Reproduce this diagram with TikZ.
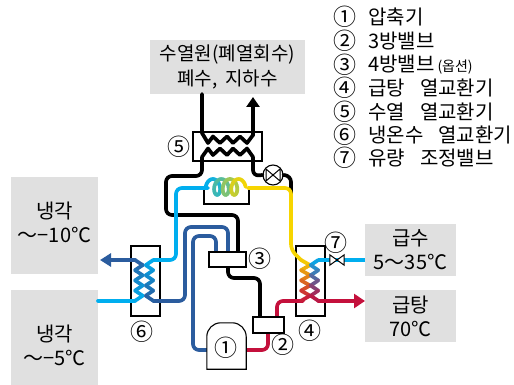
\documentclass[tikz,border=0pt]{standalone}
\usepackage{fontspec}
\setmainfont{Noto Sans CJK KR}
\usepackage{xcolor}
\usepackage{tikz}
\usetikzlibrary{calc,arrows.meta}
\definecolor{pipecyan}{HTML}{00AEEF}
\definecolor{pipeblue}{HTML}{2B5C9E}
\definecolor{pipered}{HTML}{C4103C}
\definecolor{pipeyellow}{HTML}{F7D500}
\definecolor{panelgray}{HTML}{E0E0E0}
\newcommand{\wsp}{\hspace{15pt}}

% zigzag of a heat exchanger: start x, other x, colour at top, colour at bottom
\newcommand{\zigzag}[4]{
  \foreach \i in {0,...,7}{
    \pgfmathsetmacro\p{100*(\i+0.5)/8}
    \pgfmathsetmacro\xa{isodd(\i) ? #2 : #1}
    \pgfmathsetmacro\xb{isodd(\i) ? #1 : #2}
    \pgfmathsetmacro\ya{260+5.1*\i}
    \pgfmathsetmacro\yb{260+5.1*(\i+1)}
    \draw[pipe, color=#4!\p!#3] (\xa,\ya) -- (\xb,\yb);
  }
}

\begin{document}
\begin{tikzpicture}[x=1pt, y=-1pt, font=\fontsize{20}{24}\selectfont]
\tikzset{
  panel/.style={fill=panelgray, inner sep=0pt, align=center},
  unit/.style={draw, fill=white, line width=1.1pt, inner sep=0pt},
  pipe/.style={line width=3.7pt, line cap=round, line join=round},
  bentpipe/.style={pipe, rounded corners=6pt},
  num/.style={font=\fontsize{23}{25}\selectfont, inner sep=0pt},
  legend/.style={anchor=west, inner sep=0pt},
}
\useasboundingbox (0,0) rectangle (514,385);

% gray panels
\node[panel, minimum width=155pt, minimum height=54pt, font=\fontsize{19}{25}\selectfont] (source) at (227.5,67) {수열원(폐열회수)\\폐수,\hspace{8pt}지하수};
\node[panel, minimum width=87pt, minimum height=97pt] (coolout) at (54.5,225.5) {};
\node[inner sep=0pt, align=center] (coolouttext) at (54.5,222) {냉각\\～−10℃};
\node[panel, minimum width=87pt, minimum height=95pt] (coolin) at (54.5,337.5) {};
\node[inner sep=0pt, align=center] (coolintext) at (54.5,345.5) {냉각\\～−5℃};
\node[panel, minimum width=91pt, minimum height=52pt] (supply) at (410.5,250) {급수\\5～35℃};
\node[panel, minimum width=91pt, minimum height=52pt] (hotwater) at (410.5,316) {급탕\\70℃};

% heat exchangers
\node[unit, minimum width=69pt, minimum height=29pt] (hxfive) at (227.5,146.5) {};
\node[unit, minimum width=29pt, minimum height=70pt] (hxsix) at (145.5,281) {};
\node[unit, minimum width=29pt, minimum height=70pt] (hxfour) at (310.5,281) {};

% coil holder
\coordinate (coilleft) at (204,190);
\coordinate (coilright) at (249,190);
\draw[line width=1.1pt] (coilleft) -- (204,204) -- (249,204) -- (coilright);

% black pipes
\coordinate (sourcefoot) at (202,94);
\draw[pipe] (sourcefoot) -- (202,133) -- (208,143) -- (213,136.5) -- (220,143) -- (227,136.5) -- (233,143) -- (240,136.5) -- (247,143) -- (253,135);
\draw[pipe, -{Triangle[length=10pt,width=13pt]}] (253,135) -- (253,97);
\node[circle, draw, fill=white, line width=1.1pt, minimum size=20pt, inner sep=0pt] (expvalve) at (273,175) {};
\draw[pipe] (202,157) -- (208,148.5) -- (213,155) -- (220,148.5) -- (227,155) -- (233,148.5) -- (240,155) -- (247,148.5) -- (253,157);
\draw[bentpipe] (253,157) -- (253,176) -- (expvalve.west);
\draw[bentpipe] (expvalve.east) -- (291,176) -- (291,196);
\draw[bentpipe] (202,157) -- (202,176) -- (166,176) -- (166,215) -- (238,215) -- (238,252);
\draw[line width=1pt] ([shift={(-7,-6)}]expvalve.center) -- ([shift={(7,6)}]expvalve.center) -- ([shift={(7,-6)}]expvalve.center) -- ([shift={(-7,6)}]expvalve.center) -- cycle;
\draw[bentpipe] (228,260) -- (228,278) -- (260,278) -- (260,320);

% dark blue pipes
\draw[bentpipe, color=pipeblue] (153,301) -- (185,301) -- (185,227) -- (228,227) -- (228,255);
\draw[bentpipe, color=pipeblue] (216,255) -- (216,236) -- (193,236) -- (193,350) -- (210,350);
\draw[pipe, color=pipeblue, -{Triangle[length=11pt,width=13pt]}] (135,260) -- (100,260);

% cyan and yellow pipes
\coordinate (coolfeed) at (98,300.8);
\coordinate (coldfeed) at (365,260);
\draw[bentpipe, color=pipecyan] (153.3,260) -- (176,260) -- (176,188) -- (208,188);
\draw[pipe, color=pipecyan] (coolfeed) -- (135,300.8);
\draw[bentpipe, color=pipeyellow] (248,188) -- (291,188) -- (291,250) -- (301,260);
\draw[pipe, color=pipecyan, line cap=butt] (coldfeed) -- (318.3,260);

% red pipes
\coordinate (hotfeed) at (365,301);
\draw[bentpipe, color=pipered] (243,350) -- (268,350) -- (268,330);
\draw[bentpipe, color=pipered] (277,320) -- (277,301) -- (303,301);
\draw[pipe, color=pipered, -{Triangle[length=11pt,width=14pt]}] (318.3,301) -- (hotfeed);

% coil
\foreach \t in {-90,-75,...,1155}{
  \pgfmathsetmacro\p{(\t+90)/12.6}
  \pgfmathsetmacro\xa{210.7+0.0238*(\t+90)+5*sin(\t)}
  \pgfmathsetmacro\ya{187-8*cos(\t)}
  \pgfmathsetmacro\xb{210.7+0.0238*(\t+105)+5*sin(\t+15)}
  \pgfmathsetmacro\yb{187-8*cos(\t+15)}
  \draw[pipe, color=pipeyellow!\p!pipecyan] (\xa,\ya) -- (\xb,\yb);
}

% zigzags
\zigzag{135}{142.7}{pipeblue}{pipecyan}
\zigzag{153.3}{145.7}{pipecyan}{pipeblue}
\zigzag{301}{310}{pipeyellow}{pipered}
\zigzag{318.3}{310.7}{pipecyan}{pipered}

% valves and boxes
\node[unit, minimum width=37pt, minimum height=15pt] (threeway) at (227.5,259.5) {};
\node[unit, minimum width=31pt, minimum height=16pt] (twoway) at (268.5,325) {};
\node[minimum width=39pt, minimum height=46pt, inner sep=0pt] (comp) at (226.5,346) {};
\draw[unit] (comp.south west) [rounded corners=14pt] -- (comp.north west) -- (comp.north east) [sharp corners] -- (comp.south east) -- cycle;
\node[minimum width=14pt, minimum height=10pt, inner sep=0pt] (flowvalve) at (337,260) {};
\draw[fill=white, line width=1pt] (flowvalve.north west) -- (flowvalve.south east) -- (flowvalve.north east) -- (flowvalve.south west) -- cycle;

% numbers
\node[num] (numone) at (226,348) {①};
\node[num] (numtwo) at (283,345) {②};
\node[num] (numthree) at (260,259) {③};
\node[num] (numfour) at (310,331) {④};
\node[num] (numfive) at (179,147) {⑤};
\node[num] (numsix) at (142,332) {⑥};
\node[num] (numseven) at (336,243) {⑦};

% legend
\foreach \i/\y/\sym/\txt in {1/17/①/압축기, 2/41/②/3방밸브, 3/65/③/4방밸브\hspace{3pt}{\fontsize{14}{16}\selectfont(옵션)}, 4/88/④/급탕\wsp 열교환기, 5/112/⑤/수열\wsp 열교환기, 6/135/⑥/냉온수\wsp 열교환기, 7/158/⑦/유량\wsp 조정밸브}{
  \node[num] (legnum\i) at (345,\y) {\sym};
  \node[legend] (legtxt\i) at (368,\y) {\txt};
}
\end{tikzpicture}
\end{document}
